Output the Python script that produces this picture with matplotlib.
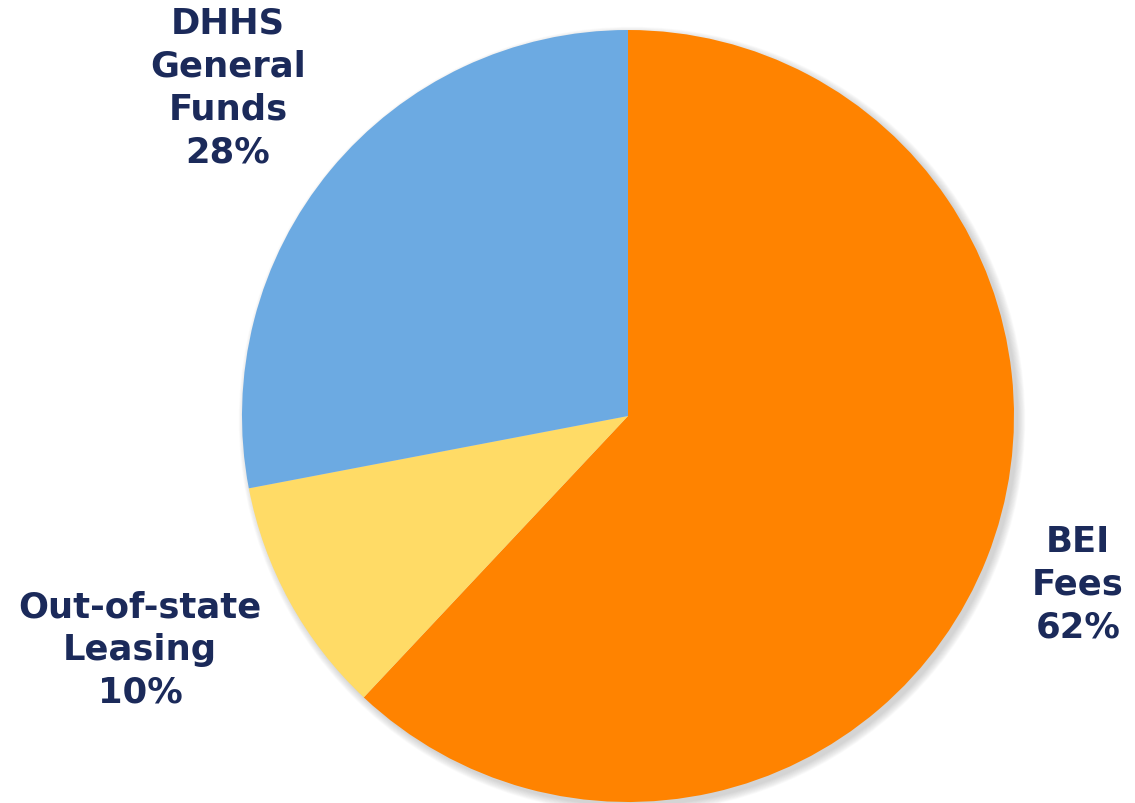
import matplotlib
matplotlib.use('Agg')
from matplotlib import pyplot as plt
from matplotlib.patches import Circle

labels = ['BEI\nFees', 'Out-of-state\nLeasing', 'DHHS\nGeneral\nFunds']
shares = [62, 10, 28]
colors = ['#FF8300', '#FFDB66', '#6CAAE2']
# where each label block sits (pixels, y measured upward)
label_pos = [(1078, 219), (140, 154), (228, 716)]

W, H = 1135, 804
cx, cy, r = 628, 387, 386

fig = plt.figure(figsize=(W / 100, H / 100), dpi=100)
ax = fig.add_axes([0, 0, 1, 1])

# soft drop shadow behind the pie
for i in range(10):
  ax.add_patch(Circle((cx + 4, cy - 4), r + i * 0.8, color='#808080',
                      alpha=0.035, lw=0, zorder=0))

ax.pie(shares, colors=colors, startangle=90, counterclock=False,
       center=(cx, cy), radius=r, frame=True,
       wedgeprops={'linewidth': 0, 'zorder': 1})
ax.set_xlim(0, W)
ax.set_ylim(0, H)
ax.set_aspect('equal')
ax.axis('off')

for lab, v, (x, y) in zip(labels, shares, label_pos):
  ax.text(x, y, '%s\n%d%%' % (lab, v), ha='center', va='center',
          fontsize=25.5, fontweight='bold', color='#1B2A5A',
          family='DejaVu Sans', linespacing=1.33, zorder=5)

fig.savefig('out.png', dpi=100)
